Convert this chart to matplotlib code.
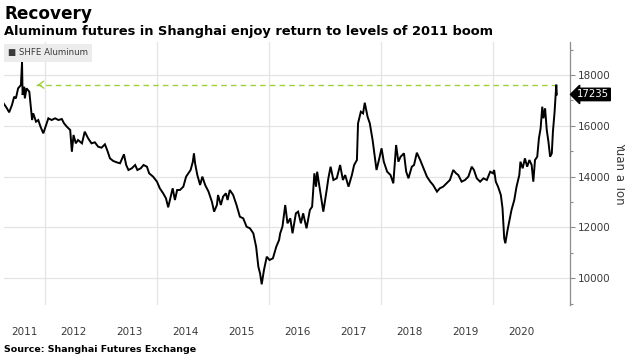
import matplotlib
matplotlib.use("Agg")
import matplotlib.pyplot as plt
import numpy as np

# ---- data (decimal year, yuan per ton) ----
years = [
    2011.26, 2011.32, 2011.36, 2011.41, 2011.45, 2011.48, 2011.52, 2011.57, 2011.59, 2011.60,
    2011.63, 2011.64, 2011.67, 2011.72, 2011.75, 2011.77, 2011.79, 2011.84, 2011.88, 2011.92,
    2011.97, 2012.00, 2012.06, 2012.12, 2012.18, 2012.24, 2012.30, 2012.34, 2012.39, 2012.45,
    2012.48, 2012.51, 2012.55, 2012.59, 2012.66, 2012.71, 2012.77, 2012.83, 2012.89, 2012.95,
    2013.01, 2013.07, 2013.11, 2013.16, 2013.22, 2013.28, 2013.34, 2013.41, 2013.45, 2013.49,
    2013.55, 2013.61, 2013.65, 2013.71, 2013.76, 2013.82, 2013.86, 2013.93, 2014.00, 2014.05,
    2014.11, 2014.16, 2014.20, 2014.23, 2014.28, 2014.32, 2014.36, 2014.41, 2014.47, 2014.52,
    2014.56, 2014.60, 2014.64, 2014.66, 2014.68, 2014.72, 2014.77, 2014.81, 2014.86, 2014.92,
    2014.98, 2015.02, 2015.07, 2015.09, 2015.14, 2015.18, 2015.23, 2015.26, 2015.30, 2015.36,
    2015.42, 2015.48, 2015.54, 2015.60, 2015.66, 2015.72, 2015.77, 2015.81, 2015.84, 2015.87,
    2015.91, 2015.96, 2016.01, 2016.07, 2016.13, 2016.18, 2016.20, 2016.24, 2016.29, 2016.33,
    2016.38, 2016.42, 2016.48, 2016.52, 2016.57, 2016.61, 2016.67, 2016.73, 2016.77, 2016.81,
    2016.84, 2016.86, 2016.91, 2016.97, 2017.03, 2017.06, 2017.10, 2017.15, 2017.21, 2017.27,
    2017.32, 2017.36, 2017.42, 2017.48, 2017.52, 2017.57, 2017.59, 2017.64, 2017.68, 2017.71,
    2017.76, 2017.80, 2017.85, 2017.89, 2017.92, 2017.97, 2018.01, 2018.05, 2018.11, 2018.17,
    2018.22, 2018.27, 2018.31, 2018.35, 2018.41, 2018.45, 2018.49, 2018.55, 2018.59, 2018.64,
    2018.70, 2018.76, 2018.82, 2018.88, 2018.93, 2019.00, 2019.05, 2019.11, 2019.17, 2019.23,
    2019.29, 2019.34, 2019.38, 2019.44, 2019.50, 2019.56, 2019.62, 2019.66, 2019.71, 2019.77,
    2019.83, 2019.89, 2019.95, 2020.00, 2020.02, 2020.05, 2020.09, 2020.14, 2020.17, 2020.20,
    2020.22, 2020.26, 2020.29, 2020.33, 2020.38, 2020.42, 2020.47, 2020.49, 2020.53, 2020.57,
    2020.61, 2020.65, 2020.69, 2020.72, 2020.75, 2020.79, 2020.82, 2020.85, 2020.88, 2020.90,
    2020.93, 2020.96, 2020.99, 2021.02, 2021.05, 2021.07, 2021.10, 2021.13, 2021.14,
]
prices = [
    16886, 16689, 16531, 16819, 17146, 17080, 17476, 17606, 18500, 17213,
    17540, 17080, 17476, 17343, 16689, 16228, 16490, 16162, 16228, 15965,
    15704, 15900, 16295, 16228, 16295, 16228, 16268, 16098, 15965, 15835,
    14980, 15638, 15310, 15441, 15310, 15770, 15508, 15310, 15350, 15177,
    15138, 15272, 15047, 14720, 14614, 14563, 14524, 14878, 14457, 14260,
    14327, 14457, 14260, 14327, 14457, 14390, 14130, 13999, 13800, 13540,
    13343, 13146, 12791, 13079, 13540, 13079, 13473, 13473, 13603, 13999,
    14130, 14260, 14587, 14917, 14524, 14063, 13670, 13999, 13670, 13408,
    13014, 12620, 12882, 13276, 12882, 13211, 13343, 13079, 13473, 13276,
    12882, 12421, 12357, 12027, 11964, 11767, 11240, 10452, 10193, 9760,
    10323, 10846, 10717, 10783, 11240, 11504, 11767, 12027, 12882, 12161,
    12357, 11767, 12555, 12620, 12161, 12555, 11964, 12685, 12816, 14130,
    13603, 14193, 13473, 12620, 13473, 13933, 14390, 13866, 13933, 14457,
    13866, 14063, 13603, 14063, 14457, 14653, 16098, 16555, 16490, 16909,
    16358, 16098, 15441, 14783, 14260, 14720, 15114, 14587, 14193, 14063,
    13736, 15244, 14587, 14783, 14917, 14193, 13933, 14390, 14457, 14941,
    14653, 14327, 13999, 13800, 13670, 13408, 13540, 13603, 13736, 13866,
    14260, 14130, 14063, 13800, 13866, 13999, 14390, 14260, 13933, 13800,
    13933, 13866, 14193, 14130, 14260, 13800, 13603, 13276, 12752, 11571,
    11374, 11898, 12227, 12685, 13079, 13603, 14063, 14587, 14327, 14720,
    14390, 14653, 14457, 13800, 14653, 14783, 15508, 15900, 16752, 16295,
    16689, 15835, 15375, 14783, 14917, 15770, 16555, 17620, 17235,
]
year_labels = ["2011", "2012", "2013", "2014", "2015", "2016", "2017", "2018", "2019", "2020"]
y_ticks = [10000, 12000, 14000, 16000, 18000]
series_name = "SHFE Aluminum"
last_value = 17235

# ---- styling ----
GRID = "#e4e4e4"
AXIS = "#8c8c8c"
TXT = "#3a3a3a"
GREEN = "#9fd03a"

fig = plt.figure(figsize=(6.25, 3.56), dpi=100)
ax = fig.add_axes([4/625, 1-305/356, (570-4)/625, (305-42)/356])

x0, x1 = 2011.268, 2021.375
ax.set_xlim(x0, x1)
ax.set_ylim(8945, 19300)

# grid
for yv in y_ticks:
    ax.axhline(yv, color=GRID, lw=0.9, zorder=0)
for yr in range(2012, 2021, 2):
    ax.axvline(yr, color=GRID, lw=0.9, zorder=0)

# series
ax.plot(years, prices, color="black", lw=1.4, zorder=3, solid_joinstyle="miter")

# dashed reference level at recent high, arrow back to 2011
recent_high = max(p for t, p in zip(years, prices) if t > 2012)
arrow_x = 2011.82
ax.plot([arrow_x + 0.02, years[-2]], [recent_high, recent_high], color=GREEN,
        lw=1.0, ls=(0, (4, 3)), zorder=2)
ax.annotate("", xy=(arrow_x, recent_high), xytext=(arrow_x + 0.12, recent_high),
            arrowprops=dict(arrowstyle="->,head_length=0.35,head_width=0.25",
                            color=GREEN, lw=1.0), zorder=2)

# spines / ticks
for s in ["left", "top", "bottom"]:
    ax.spines[s].set_visible(False)
ax.spines["right"].set_color(AXIS)
ax.spines["right"].set_linewidth(0.9)
ax.yaxis.tick_right()
ax.set_yticks(y_ticks)
ax.set_yticklabels([str(v) for v in y_ticks])
ax.set_yticks(list(range(9000, 20000, 2000)), minor=True)
ax.tick_params(axis="y", which="major", direction="out", length=3.5, width=0.8,
               color=AXIS, labelsize=7.5, labelcolor=TXT, pad=2)
ax.tick_params(axis="y", which="minor", direction="out", length=2, width=0.8, color=AXIS)

xt = [(x0 + 2012) / 2] + [int(y) + 0.5 for y in year_labels[1:]]
ax.set_xticks(xt)
ax.set_xticklabels(year_labels)
ax.tick_params(axis="x", length=0, labelsize=7.5, labelcolor=TXT, pad=16)

ax.yaxis.set_label_position("right")
ax.set_ylabel("Yuan a Ton", rotation=270, fontsize=8.5, color=TXT, labelpad=11)

# last value box
ax.annotate(f"{last_value}", xy=(1.0, last_value), xycoords=("axes fraction", "data"),
            xytext=(5, 0), textcoords="offset points", ha="left", va="center",
            fontsize=7.3, color="white",
            bbox=dict(boxstyle="larrow,pad=0.12", fc="black", ec="black"),
            annotation_clip=False, zorder=5)

# legend box
ax.annotate("\u25A0 " + series_name, xy=(0.0, 1.0), xycoords="axes fraction",
            xytext=(3, -4.5), textcoords="offset points", ha="left", va="top",
            fontsize=6.2, color=TXT,
            bbox=dict(boxstyle="square,pad=0.5", fc="#ececec", ec="none"))

# titles
fig.text(4/625, 1-19/356, "Recovery", fontsize=12.2, fontweight="bold", color="black",
         va="baseline", ha="left")
fig.text(4/625, 1-35/356, "Aluminum futures in Shanghai enjoy return to levels of 2011 boom",
         fontsize=9.4, fontweight="bold", color="black", va="baseline", ha="left")
fig.text(4/625, 1-352/356, "Source: Shanghai Futures Exchange", fontsize=6.8,
         fontweight="bold", color="black", va="baseline", ha="left")

fig.savefig("out.png", dpi=100)
